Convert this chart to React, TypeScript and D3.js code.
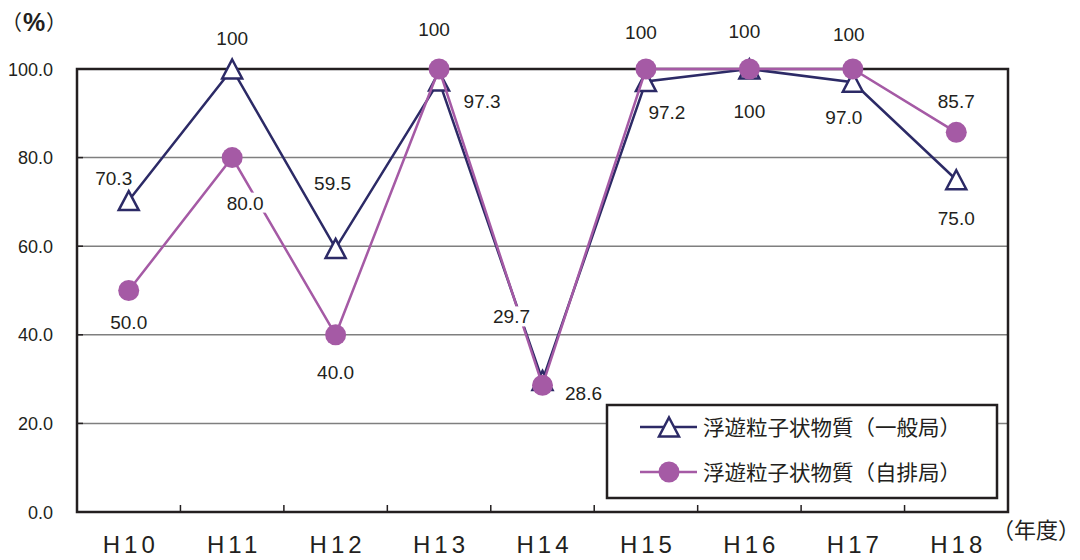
import React from "react";
import * as d3 from "d3";

const categories = ["H10", "H11", "H12", "H13", "H14", "H15", "H16", "H17", "H18"];
const generalValues = [70.3, 100, 59.5, 97.3, 29.7, 97.2, 100, 97.0, 75.0];
const roadsideValues = [50.0, 80.0, 40.0, 100, 28.6, 100, 100, 100, 85.7];
const generalLabels = ["70.3", "100", "59.5", "97.3", "29.7", "97.2", "100", "97.0", "75.0"];
const roadsideLabels = ["50.0", "80.0", "40.0", "100", "28.6", "100", "100", "100", "85.7"];
const yTicks = [0, 20, 40, 60, 80, 100];
const seriesNames = ["浮遊粒子状物質（一般局）", "浮遊粒子状物質（自排局）"];

// label offsets (layout) relative to each point
const generalLabelOffsets: [number, number][] = [
  [-15, -23], [0, -31], [-3, -65], [43, 20], [-31, -64], [21, 31], [0, 42], [-9, 35], [0, 38],
];
const roadsideLabelOffsets: [number, number][] = [
  [0, 31], [13, 45], [0, 37], [-5, -40], [41, 8], [-5, -37], [-5, -38], [-4, -35], [0, -31],
];

const NAVY = "#2c2a66";
const PINK = "#a55aa5";
const INK = "#231f20";
const FONT = "'Liberation Sans', Arial, sans-serif";
const CJK = "'Noto Sans CJK JP', sans-serif";

const left = 77, right = 1008, top = 69, bottom = 512;

const x = d3.scaleBand<string>().domain(categories).range([left, right]);
const y = d3.scaleLinear().domain([0, 100]).range([bottom, top]);
const cx = (c: string) => (x(c) as number) + x.bandwidth() / 2;

const lineGen = d3
  .line<number>()
  .x((_, i) => cx(categories[i]))
  .y((d) => y(d));

const triPath = "M0,-9.5 L10,9.5 L-10,9.5 Z";

function Label({ px, py, text }: { px: number; py: number; text: string }) {
  const w = text.length * 10.6 + 2;
  return (
    <g>
      <rect x={px - w / 2} y={py - 10} width={w} height={20} fill="#fff" />
      <text
        x={px}
        y={py + 7}
        textAnchor="middle"
        fontFamily={FONT}
        fontSize={19}
        fill={INK}
      >
        {text}
      </text>
    </g>
  );
}

export default function App() {
  const boundaries = categories.slice(1).map((c) => x(c) as number);
  return (
    <svg
      width={1080}
      height={560}
      style={{ position: "absolute", left: 0, top: 0, background: "#fff" }}
    >
      <rect x={0} y={0} width={1080} height={560} fill="#fff" />
      {/* gridlines */}
      {yTicks
        .filter((t) => t > 0 && t < 100)
        .map((t) => (
          <line key={t} x1={left} x2={right} y1={y(t)} y2={y(t)} stroke="#7f7f7f" strokeWidth={1.5} />
        ))}
      {/* y ticks */}
      {yTicks.map((t) => (
        <g key={"yt" + t}>
          <line x1={left} x2={left + 6} y1={y(t)} y2={y(t)} stroke={INK} strokeWidth={1.5} />
          <text
            x={53}
            y={y(t) + 6.5}
            textAnchor="end"
            fontFamily={FONT}
            fontSize={18}
            fill={INK}
          >
            {t.toFixed(1)}
          </text>
        </g>
      ))}
      {/* x ticks */}
      {boundaries.map((b) => (
        <line key={"xt" + b} x1={b} x2={b} y1={bottom} y2={bottom - 7} stroke={INK} strokeWidth={1.5} />
      ))}
      {categories.map((c) => (
        <text
          key={"xl" + c}
          x={cx(c) + 2}
          y={553}
          textAnchor="middle"
          fontFamily={FONT}
          fontSize={24}
          letterSpacing={4}
          fill={INK}
        >
          {c}
        </text>
      ))}
      {/* frame */}
      <rect x={left} y={top} width={right - left} height={bottom - top} fill="none" stroke={INK} strokeWidth={2.5} />
      <text x={1} y={30} fontFamily={CJK} fontSize={21} fill={INK}>（</text>
      <text x={23} y={31} fontFamily={FONT} fontSize={25} fontWeight={600} fill={INK}>%</text>
      <text x={46} y={30} fontFamily={CJK} fontSize={21} fill={INK}>）</text>
      <text x={992} y={538} fontFamily={CJK} fontSize={22} fill={INK}>
        （年度）
      </text>

      {/* series lines */}
      <path d={lineGen(generalValues) || ""} fill="none" stroke={NAVY} strokeWidth={2.5} />
      {generalValues.map((v, i) => (
        <path
          key={"g" + i}
          d={triPath}
          transform={`translate(${cx(categories[i])},${y(v)})`}
          fill="#fff"
          stroke={NAVY}
          strokeWidth={2.5}
        />
      ))}
      <path d={lineGen(roadsideValues) || ""} fill="none" stroke={PINK} strokeWidth={2.5} />
      {roadsideValues.map((v, i) => (
        <circle key={"r" + i} cx={cx(categories[i])} cy={y(v)} r={10.5} fill={PINK} />
      ))}

      {/* labels */}
      {generalValues.map((v, i) => (
        <Label
          key={"gl" + i}
          px={cx(categories[i]) + generalLabelOffsets[i][0]}
          py={y(v) + generalLabelOffsets[i][1]}
          text={generalLabels[i]}
        />
      ))}
      {roadsideValues.map((v, i) => (
        <Label
          key={"rl" + i}
          px={cx(categories[i]) + roadsideLabelOffsets[i][0]}
          py={y(v) + roadsideLabelOffsets[i][1]}
          text={roadsideLabels[i]}
        />
      ))}

      {/* legend */}
      <rect x={607} y={405} width={390} height={93} fill="#fff" stroke={INK} strokeWidth={2.5} />
      {seriesNames.map((name, i) => {
        const ly = 427 + i * 45;
        const color = i === 0 ? NAVY : PINK;
        return (
          <g key={"lg" + i}>
            <line x1={640} x2={697} y1={ly} y2={ly} stroke={color} strokeWidth={2.5} />
            {i === 0 ? (
              <path d={triPath} transform={`translate(669,${ly})`} fill="#fff" stroke={NAVY} strokeWidth={2.5} />
            ) : (
              <circle cx={669} cy={ly} r={10.5} fill={PINK} />
            )}
            <text
              x={703}
              y={ly + 8}
              fontFamily={CJK}
              fontSize={21}
              fill={INK}
              textLength={258}
              lengthAdjust="spacingAndGlyphs"
            >
              {name}
            </text>
          </g>
        );
      })}
    </svg>
  );
}
